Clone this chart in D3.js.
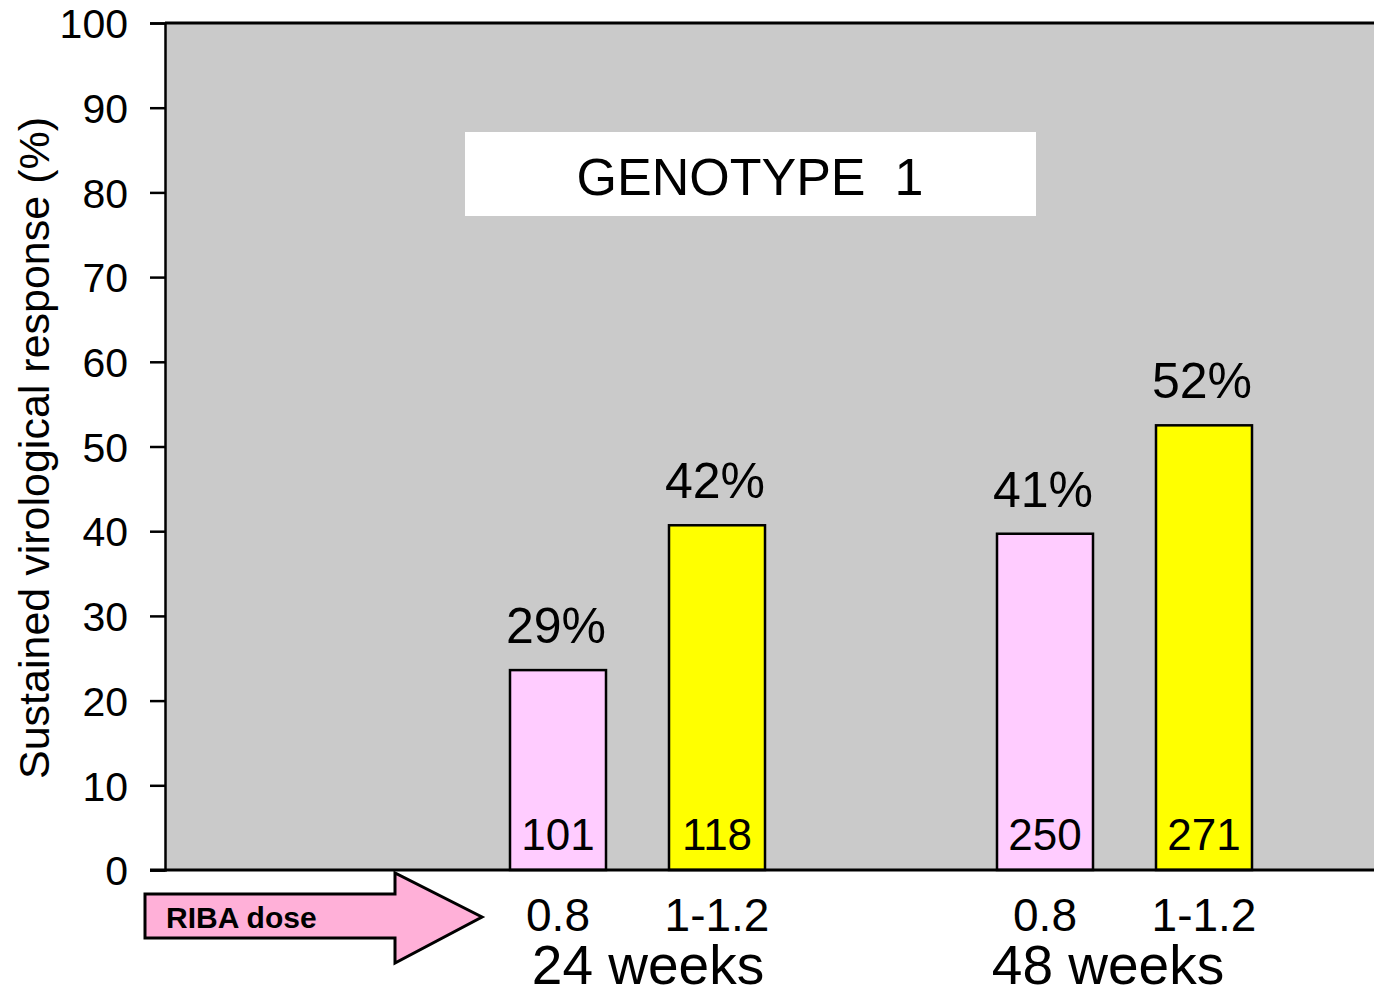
<!DOCTYPE html>
<html>
<head>
<meta charset="utf-8">
<script src="https://cdn.jsdelivr.net/npm/d3@7"></script>
<style>
  html, body { margin: 0; padding: 0; background: #ffffff; }
  svg { display: block; }
  text { font-family: "Liberation Sans", Arial, sans-serif; fill: #000; }
</style>
</head>
<body>
<svg id="chart" width="1374" height="994"></svg>
<script>
// ---- data ----
const groups = ["24 weeks", "48 weeks"];
const doses = ["0.8", "1-1.2"];
const barValues = [23.6, 40.7, 39.7, 52.5];          // bar heights as drawn (%)
const pctLabels = ["29%", "42%", "41%", "52%"];       // labels shown above bars
const counts = ["101", "118", "250", "271"];          // n inside bars
const yTicks = [0, 10, 20, 30, 40, 50, 60, 70, 80, 90, 100];
const yTitle = "Sustained virological response (%)";
const boxTitle = "GENOTYPE  1";
const arrowLabel = "RIBA dose";
const colors = { "0.8": "#FFCCFF", "1-1.2": "#FFFF00" };

const bars = [];
groups.forEach((g, gi) => doses.forEach((d, di) => {
  const i = gi * doses.length + di;
  bars.push({ group: g, dose: d, value: barValues[i], pct: pctLabels[i], n: counts[i] });
}));

// ---- layout ----
const svg = d3.select("#chart");
const plot = { left: 165, right: 1374, top: 23, bottom: 870 };

const y = d3.scaleLinear().domain([0, 100]).range([plot.bottom, plot.top]);
const xGroup = d3.scaleBand().domain(groups).range([392, 1366]);
const xDose = d3.scalePoint().domain(doses).range([166, 325]);
const xGroupLabel = d3.scalePoint().domain(groups).range([648, 1108]);
const barW = 96;
const cx = d => xGroup(d.group) + xDose(d.dose);

// plot background
svg.append("rect")
  .attr("x", plot.left).attr("y", plot.top)
  .attr("width", plot.right - plot.left).attr("height", plot.bottom - plot.top)
  .attr("fill", "#CACACA");

// genotype box
svg.append("rect")
  .attr("x", 465).attr("y", 132).attr("width", 571).attr("height", 84)
  .attr("fill", "#ffffff");
svg.append("text")
  .attr("x", 750).attr("y", 195)
  .attr("text-anchor", "middle")
  .attr("font-size", 52)
  .style("white-space", "pre")
  .attr("xml:space", "preserve")
  .text(boxTitle);

// bars
svg.selectAll("rect.bar").data(bars).enter().append("rect")
  .attr("class", "bar")
  .attr("x", d => cx(d) - barW / 2)
  .attr("y", d => y(d.value))
  .attr("width", barW)
  .attr("height", d => y(0) - y(d.value))
  .attr("fill", d => colors[d.dose])
  .attr("stroke", "#000").attr("stroke-width", 2.5);

// percent labels
svg.selectAll("text.pct").data(bars).enter().append("text")
  .attr("class", "pct")
  .attr("x", d => cx(d) - 2)
  .attr("y", d => y(d.value) - 27)
  .attr("text-anchor", "middle")
  .attr("font-size", 50)
  .text(d => d.pct);

// counts inside bars
svg.selectAll("text.n").data(bars).enter().append("text")
  .attr("class", "n")
  .attr("x", d => cx(d))
  .attr("y", 850)
  .attr("text-anchor", "middle")
  .attr("font-size", 44)
  .text(d => d.n);

// top border line
svg.append("line")
  .attr("x1", plot.left).attr("x2", plot.right)
  .attr("y1", plot.top).attr("y2", plot.top)
  .attr("stroke", "#000").attr("stroke-width", 3);

// y axis
const yAxis = d3.axisLeft(y).tickValues(yTicks).tickSize(15).tickPadding(22)
  .tickFormat(d3.format("d"));
const gy = svg.append("g").attr("transform", `translate(${plot.left},0)`).call(yAxis);
gy.select(".domain").attr("stroke", "#000").attr("stroke-width", 2.5);
gy.selectAll(".tick line").attr("stroke", "#000").attr("stroke-width", 2.5);
gy.selectAll(".tick text")
  .attr("font-size", 41)
  .attr("font-family", "Liberation Sans, Arial, sans-serif")
  .attr("fill", "#000")
  .attr("dy", "0.36em");

// baseline
svg.append("line")
  .attr("x1", 150).attr("x2", plot.right)
  .attr("y1", y(0)).attr("y2", y(0))
  .attr("stroke", "#000").attr("stroke-width", 3);

// y title
svg.append("text")
  .attr("transform", `translate(49, 448) rotate(-90)`)
  .attr("text-anchor", "middle")
  .attr("font-size", 43)
  .text(yTitle);

// dose labels
svg.selectAll("text.dose").data(bars).enter().append("text")
  .attr("class", "dose")
  .attr("x", d => cx(d))
  .attr("y", 931)
  .attr("text-anchor", "middle")
  .attr("font-size", 46)
  .text(d => d.dose);

// group labels
svg.selectAll("text.grp").data(groups).enter().append("text")
  .attr("class", "grp")
  .attr("x", g => xGroupLabel(g))
  .attr("y", 984)
  .attr("text-anchor", "middle")
  .attr("font-size", 55)
  .text(g => g);

// RIBA dose arrow
const arrowPts = [[145, 894], [395, 894], [395, 873], [482, 917], [395, 963], [395, 938], [145, 938]];
svg.append("path")
  .attr("d", d3.line()(arrowPts) + "Z")
  .attr("fill", "#FFB0D8")
  .attr("stroke", "#000").attr("stroke-width", 3)
  .attr("stroke-linejoin", "miter");
svg.append("text")
  .attr("x", 166).attr("y", 928)
  .attr("font-size", 30)
  .attr("font-weight", "bold")
  .text(arrowLabel);
</script>
</body>
</html>
